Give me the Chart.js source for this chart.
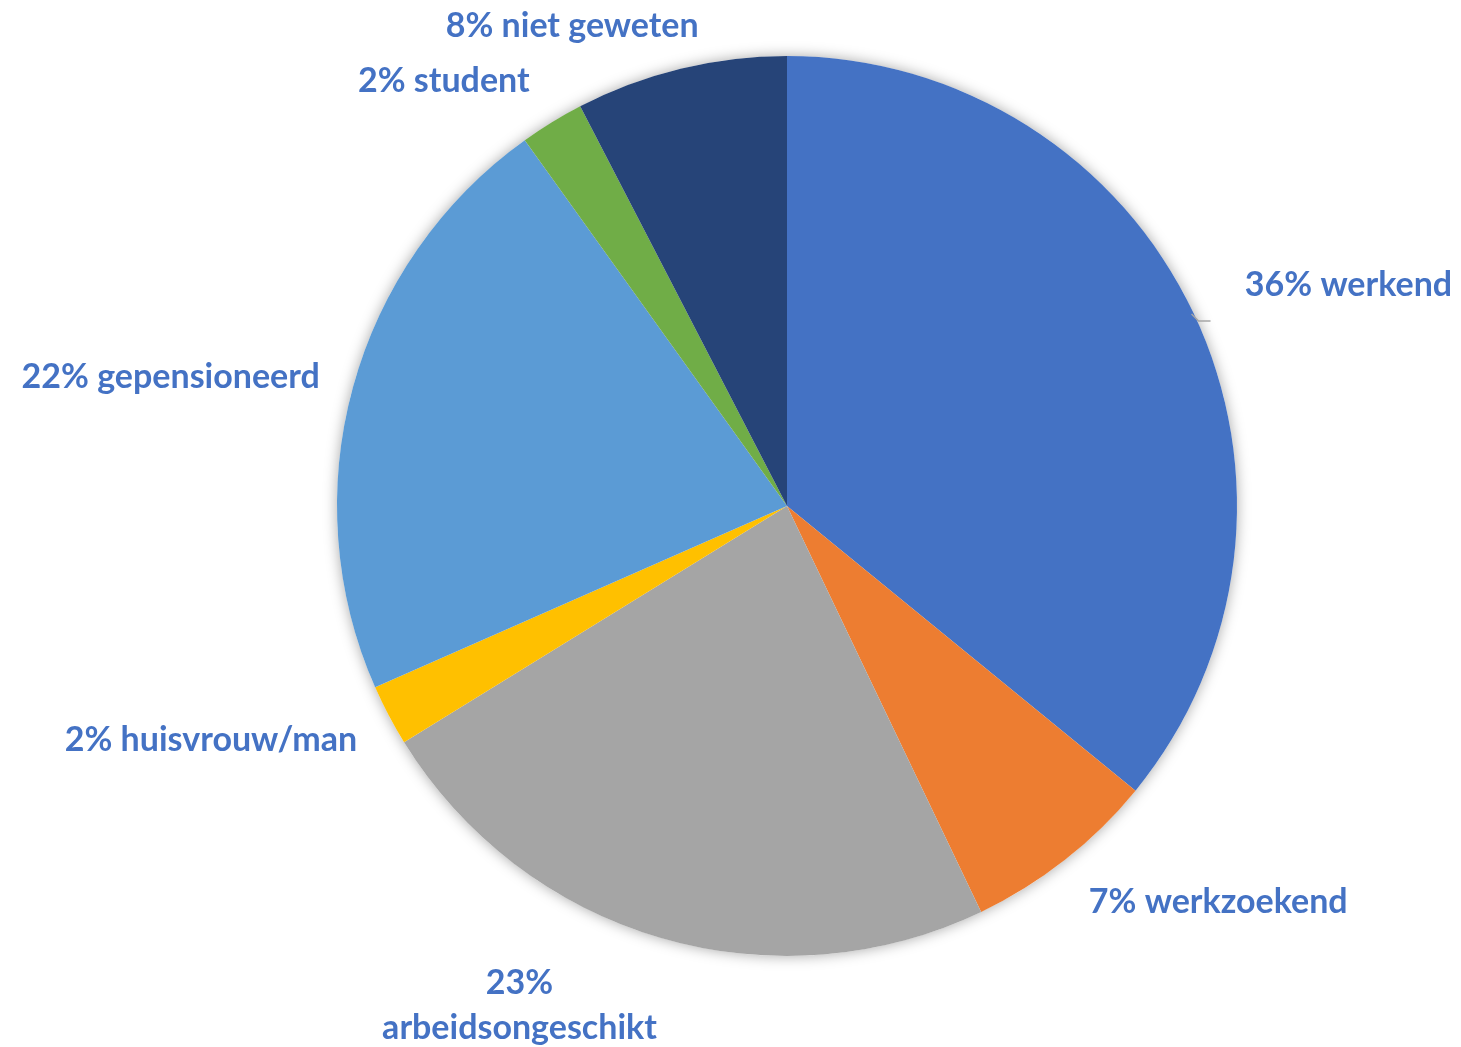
<!DOCTYPE html>
<html>
<head>
<meta charset="utf-8">
<script src="https://cdn.jsdelivr.net/npm/chart.js@4.4.1/dist/chart.umd.min.js"></script>
<style>
  html, body { margin: 0; padding: 0; background: #fff; }
  #wrap { width: 1461px; height: 1047px; position: relative; }
</style>
</head>
<body>
<div id="wrap"><canvas id="pieChart"></canvas></div>
<script>
// data
const categories = ["werkend", "werkzoekend", "arbeidsongeschikt", "huisvrouw/man", "gepensioneerd", "student", "niet geweten"];
const shares = [35.9, 7.0, 23.3, 2.2, 21.7, 2.3, 7.6];
const shownPct = ["36%", "7%", "23%", "2%", "22%", "2%", "8%"];
const sliceColors = ["#4472C4", "#ED7D31", "#A5A5A5", "#FFC000", "#5B9BD5", "#70AD47", "#264478"];

// where each label sits: angle (deg from top, clockwise) and distance in radii
const labelPlace = [
  { ang: 64.2, dist: 1.13, align: "left", leader: true },
  { ang: 142.7, dist: 1.107, align: "left" },
  { ang: 208.2, dist: 1.258, align: "center", split: true },
  { ang: 241.4, dist: 1.088, align: "right" },
  { ang: 285.4, dist: 1.077, align: "right" },
  { ang: 328.8, dist: 1.104, align: "right" },
  { ang: 335.9, dist: 1.169, align: "center" },
];

const labelFont = "bold 34px Lato, 'Open Sans', sans-serif";
const labelColor = "#4472C4";

const shadowPlugin = {
  id: "pieShadow",
  beforeDatasetsDraw(chart) {
    const arc = chart.getDatasetMeta(0).data[0];
    if (!arc) return;
    const c = chart.ctx;
    c.save();
    c.shadowColor = "rgba(0,0,0,0.35)";
    c.shadowBlur = 14;
    c.fillStyle = "#fff";
    c.beginPath();
    c.arc(arc.x, arc.y, arc.outerRadius, 0, Math.PI * 2);
    c.fill();
    c.restore();
  },
};

const labelPlugin = {
  id: "outsideLabels",
  afterDatasetsDraw(chart) {
    const meta = chart.getDatasetMeta(0);
    const c = chart.ctx;
    c.save();
    c.font = labelFont;
    c.fillStyle = labelColor;
    c.textBaseline = "middle";
    meta.data.forEach((arc, i) => {
      const p = labelPlace[i];
      const a = p.ang * Math.PI / 180;
      const r = arc.outerRadius;
      const x = arc.x + Math.sin(a) * r * p.dist;
      const y = arc.y - Math.cos(a) * r * p.dist;
      c.textAlign = p.align;
      if (p.split) {
        c.fillText(shownPct[i], x, y - 22);
        c.fillText(categories[i], x, y + 23);
      } else {
        c.fillText(shownPct[i] + " " + categories[i], x, y);
      }
      if (p.leader) {
        const mid = (arc.startAngle + arc.endAngle) / 2;
        const x0 = arc.x + Math.cos(mid) * r * 0.995;
        const y0 = arc.y + Math.sin(mid) * r * 0.995;
        c.strokeStyle = "#A6A6A6";
        c.lineWidth = 1.5;
        c.beginPath();
        c.moveTo(x0, y0);
        c.lineTo(x0 + 7, y0 + 7);
        c.lineTo(x0 + 19, y0 + 7);
        c.stroke();
      }
    });
    c.restore();
  },
};

new Chart(document.getElementById("pieChart"), {
  type: "pie",
  data: {
    labels: categories,
    datasets: [
      {
        data: shares,
        backgroundColor: sliceColors,
        borderWidth: 0,
      },
    ],
  },
  options: {
    responsive: true,
    maintainAspectRatio: false,
    animation: false,
    layout: { padding: { top: 56, bottom: 91, left: 337, right: 224 } },
    plugins: {
      legend: { display: false },
      tooltip: { enabled: false },
    },
  },
  plugins: [shadowPlugin, labelPlugin],
});
</script>
</body>
</html>
